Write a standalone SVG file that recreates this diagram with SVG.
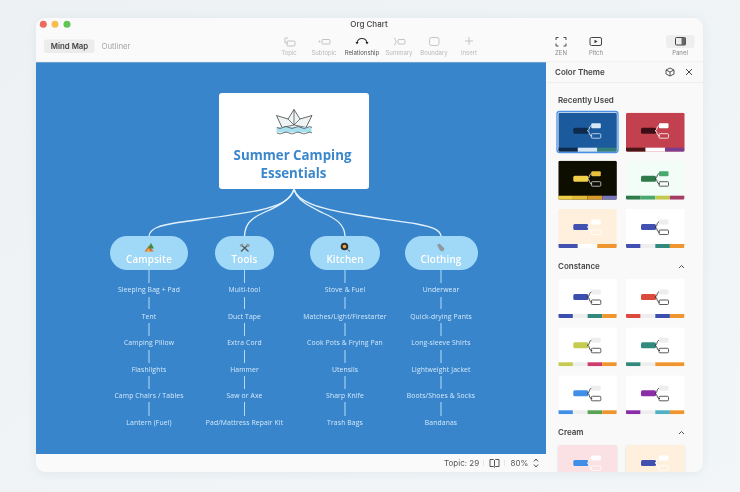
<svg xmlns="http://www.w3.org/2000/svg" width="740" height="492" viewBox="0 0 740 492">
<defs>
<linearGradient id="page" x1="0" y1="0" x2="1" y2="1"><stop offset="0" stop-color="#edf1f4"/><stop offset="1" stop-color="#f2f6f8"/></linearGradient>
<filter id="win" x="-5%" y="-5%" width="110%" height="110%"><feDropShadow dx="0" dy="1" stdDeviation="5" flood-color="#b8c4cc" flood-opacity=".3"/></filter>
<filter id="cs" x="-10%" y="-10%" width="120%" height="125%"><feDropShadow dx="0" dy="1" stdDeviation="1.2" flood-color="#000" flood-opacity=".14"/></filter>
<filter id="soft" x="0" y="0" width="100%" height="100%"><feGaussianBlur stdDeviation=".3"/></filter>
<clipPath id="winclip"><rect x="36" y="18" width="667" height="454" rx="9"/></clipPath>
<clipPath id="cardclip"><rect width="58.500" height="39" rx="1.500"/></clipPath>
<path id="link" d="M29 18C32 17.500 30 12.800 34 12.800M29 18C32 18.500 30 23.300 34 23.300" fill="none" stroke-width=".9"/>
</defs>
<style>
text{font-family:Inter,"Liberation Sans",sans-serif}
.tb{font-size:6px;fill:#b9b9b9;text-anchor:middle}
.ic{fill:none;stroke:#c4c4c4;stroke-width:1}
.icd{fill:none;stroke:#333;stroke-width:1.100}
.sec{font-size:8px;font-weight:600;fill:#444}
.item{font-family:"Open Sans","Liberation Sans",sans-serif;font-size:6.800px;fill:#d3e9fa;text-anchor:middle;letter-spacing:.12px}
.tree{fill:none;stroke:#e3f1fb;stroke-width:1.300;stroke-linecap:round}
.lane{fill:none;stroke:#b5dcf6;stroke-width:1}
.main{fill:#a0d8f7}
.mtxt{font-family:"Open Sans","Liberation Sans",sans-serif;font-size:9.800px;font-weight:600;fill:#fff;text-anchor:middle;letter-spacing:.2px}
.ttl{font-family:"Open Sans","Liberation Sans",sans-serif;font-size:13.300px;font-weight:700;fill:#3b87cd;text-anchor:middle}
.chev{fill:none;stroke:#555;stroke-width:1}
.card{filter:url(#cs)}
</style>
<g filter="url(#soft)">
<rect width="740" height="492" fill="url(#page)"/>
<rect x="36" y="18" width="667" height="454" rx="9" fill="#fafafa" filter="url(#win)"/>
<g id="toolbar">
<circle cx="43.300" cy="24.300" r="3.500" fill="#ed6a5e"/><circle cx="55" cy="24.300" r="3.500" fill="#f5bf4f"/><circle cx="67" cy="24.300" r="3.500" fill="#61c554"/>
<text x="369" y="27" font-size="8" font-weight="500" fill="#444" text-anchor="middle">Org Chart</text>
<rect x="44" y="39.500" width="50.500" height="13.500" rx="2.500" fill="#ececec"/>
<text x="69.500" y="49" font-size="7.800" font-weight="600" fill="#444" text-anchor="middle">Mind Map</text>
<text x="116" y="49" font-size="7.800" fill="#a5a5a5" text-anchor="middle">Outliner</text>
<path class="ic" d="M288 38h-3v5h3"/><rect class="ic" x="287" y="41" width="8" height="5" rx="1"/>
<text class="tb" x="289" y="55">Topic</text>
<circle cx="319.500" cy="41.500" r="1" fill="#c4c4c4"/><rect class="ic" x="322" y="39.500" width="8" height="4.500" rx="1"/>
<text class="tb" x="324" y="55">Subtopic</text>
<path class="icd" d="M357 43c1-6 9-6 10 0" stroke-width="1.500"/><path d="M355.500 42h3l-1.500 2.500zM365.500 42h3l-1.500 2.500z" fill="#222"/>
<text class="tb" x="362" y="55" style="fill:#555">Relationship</text>
<path class="ic" d="M394 38c2 0 1 3.500 2.500 3.500C395 41.500 396 45 394 45"/><rect class="ic" x="398" y="39.500" width="7" height="4.500" rx="1"/>
<text class="tb" x="399" y="55">Summary</text>
<rect class="ic" x="429.500" y="37.500" width="9.500" height="8" rx="2"/>
<text class="tb" x="434" y="55">Boundary</text>
<path class="ic" d="M469 37v8M465 41h8"/>
<text class="tb" x="469" y="55">Insert</text>
<path d="M556 40v-2.500h2.500M563.500 37.500h2.500V40M566 43.500v2.500h-2.500M558.500 46H556v-2.500" fill="none" stroke="#444" stroke-width="1"/>
<text class="tb" x="561" y="55" style="fill:#8a8a8a">ZEN</text>
<rect x="590" y="37.500" width="11.500" height="8" rx="1.500" fill="none" stroke="#444"/><path d="M594.500 39.800l3 1.700-3 1.700z" fill="#333"/>
<text class="tb" x="596" y="55" style="fill:#8a8a8a">Pitch</text>
<rect x="666" y="35" width="28.500" height="13" rx="3" fill="#eeeeee"/>
<rect x="675.500" y="37.500" width="10" height="7.500" rx="1" fill="none" stroke="#444"/><rect x="681.500" y="37.500" width="4" height="7.500" fill="#666"/>
<text class="tb" x="680" y="55" style="fill:#8a8a8a">Panel</text>
</g>
<rect x="36" y="62" width="510" height="392" fill="#3985cb"/>
<rect x="36" y="61.500" width="667" height=".8" fill="#eaeaea"/>
<g id="connectors">
<path class="tree" d="M294 189C291 201 278 206 258 210.500C230 216 202 219 178 222.500C158 225.500 150 229 149 236"/>
<path class="tree" d="M294 189C291 200 277 207 265 212C251 218 245 224 244.500 236"/>
<path class="tree" d="M294 189C297 201 311 207 323 213C337 219 344.500 225 345 236"/>
<path class="tree" d="M294 189C297 201 315 208 357 215C380 219 400 221 417 224C433 227 440 230 441 236"/>
<path class="lane" d="M149 270V283M149 297V309M149 323V336M149 350V363M149 376V389M149 402V416"/>
<path class="lane" d="M244.500 270V283M244.500 297V309M244.500 323V336M244.500 350V363M244.500 376V389M244.500 402V416"/>
<path class="lane" d="M345 270V283M345 297V309M345 323V336M345 350V363M345 376V389M345 402V416"/>
<path class="lane" d="M441 270V283M441 297V309M441 323V336M441 350V363M441 376V389M441 402V416"/>
</g>
<g id="central">
<rect x="219" y="93" width="150" height="96" rx="3" fill="#fff"/>
<path d="M276.500 115.500L288 119L294 109.500L300 119L312 115.500L306 127.500H282Z" fill="#eef3f6" stroke="#444" stroke-width=".8" stroke-linejoin="round"/>
<path d="M288 119L294 125L300 119M294 109.500V125M282 127.500L294 125L306 127.500" fill="none" stroke="#444" stroke-width=".7"/>
<rect x="276.500" y="127" width="35" height="5.500" fill="#a9e0ee"/>
<path d="M277 127.500q3 2 6 0t6 0t6 0t6 0t6 0t5 0M277 133q3 2 6 0t6 0t6 0t6 0t6 0t5 0" fill="none" stroke="#444" stroke-width=".7"/>
<text class="ttl" x="292.500" y="160">Summer Camping</text>
<text class="ttl" x="293.500" y="177.500">Essentials</text>
</g>
<g id="campsite">
<rect class="main" x="110" y="236" width="78" height="34" rx="17"/>
<path d="M144.500 251.500L149 245.500L153.500 251.500Z" fill="#d86c2c"/><path d="M151 243l3 5.500h-6z" fill="#3d8a3f"/><path d="M146 251.500l3-3.500 1 3.500z" fill="#f2b14e"/>
<text class="mtxt" x="149" y="263">Campsite</text>
<text class="item" x="149" y="292">Sleeping Bag + Pad</text><text class="item" x="149" y="318.500">Tent</text><text class="item" x="149" y="345">Camping Pillow</text><text class="item" x="149" y="371.500">Flashlights</text><text class="item" x="149" y="398">Camp Chairs / Tables</text><text class="item" x="149" y="424.500">Lantern (Fuel)</text>
</g>
<g id="tools">
<rect class="main" x="215" y="236" width="59" height="34" rx="17"/>
<path d="M241 244.500L248.500 251.500M248.500 244.500L241 251.500" stroke="#555" stroke-width="1.200"/><path d="M239.500 245l3-1.500 1 1.500-2.500 2zM247 243.500l3 2-1.500 1.500-2.500-2z" fill="#8d979c"/>
<text class="mtxt" x="244.500" y="263">Tools</text>
<text class="item" x="244.500" y="292">Multi-tool</text><text class="item" x="244.500" y="318.500">Duct Tape</text><text class="item" x="244.500" y="345">Extra Cord</text><text class="item" x="244.500" y="371.500">Hammer</text><text class="item" x="244.500" y="398">Saw or Axe</text><text class="item" x="244.500" y="424.500">Pad/Mattress Repair Kit</text>
</g>
<g id="kitchen">
<rect class="main" x="310" y="236" width="70" height="34" rx="17"/>
<circle cx="344.500" cy="246.500" r="3.800" fill="#333"/><circle cx="344.500" cy="246.500" r="1.800" fill="#f0a63c"/><path d="M347.500 249.500L350 251.500" stroke="#555" stroke-width="1"/>
<text class="mtxt" x="345" y="263">Kitchen</text>
<text class="item" x="345" y="292">Stove &amp; Fuel</text><text class="item" x="345" y="318.500">Matches/Light/Firestarter</text><text class="item" x="345" y="345">Cook Pots &amp; Frying Pan</text><text class="item" x="345" y="371.500">Utensils</text><text class="item" x="345" y="398">Sharp Knife</text><text class="item" x="345" y="424.500">Trash Bags</text>
</g>
<g id="clothing">
<rect class="main" x="405" y="236" width="73" height="34" rx="17"/>
<path d="M437 245l2.500-1.500 5 5 -1.500 3-3-1z" fill="#8f9aa0"/>
<text class="mtxt" x="441" y="263">Clothing</text>
<text class="item" x="441" y="292">Underwear</text><text class="item" x="441" y="318.500">Quick-drying Pants</text><text class="item" x="441" y="345">Long-sleeve Shirts</text><text class="item" x="441" y="371.500">Lightweight Jacket</text><text class="item" x="441" y="398">Boots/Shoes &amp; Socks</text><text class="item" x="441" y="424.500">Bandanas</text>
</g>
<g id="panel" clip-path="url(#winclip)">
<rect x="546" y="62" width="157" height="410" fill="#f9f9f9"/>
<rect x="546" y="82" width="157" height=".8" fill="#ebebeb"/>
<text x="555" y="75" font-size="8" font-weight="600" fill="#444">Color Theme</text>
<path d="M670 68l4 2v4l-4 2-4-2v-4zM666 70l4 2 4-2M670 72v4" fill="none" stroke="#444" stroke-width=".9"/>
<path d="M686 69l6 6M692 69l-6 6" stroke="#444" stroke-width="1"/>
<text class="sec" x="558" y="103">Recently Used</text>
<text class="sec" x="558" y="269">Constance</text>
<path class="chev" d="M679 268l2.500-2.500 2.500 2.500"/>
<text class="sec" x="558" y="435">Cream</text>
<path class="chev" d="M679 434l2.500-2.500 2.500 2.500"/>

<rect x="557" y="111.500" width="61" height="41" rx="2.500" fill="none" stroke="#4a90e8" stroke-width="1.300"/>
<g class="card" transform="translate(558.300 112.700)" clip-path="url(#cardclip)"><rect width="59" height="40" fill="#1f5a9e"/><rect x="15" y="15" width="15" height="6" rx="1.500" fill="#0c2c4e"/><use href="#link" stroke="#d6e8f8"/><rect x="33" y="10.500" width="9.500" height="5" rx="1" fill="#d6e8f8"/><rect x="33" y="21" width="9.500" height="4.500" rx="1" fill="none" stroke="#d6e8f8" stroke-width=".8"/><rect y="35" width="19.500" height="4" fill="#0c2c4e"/><rect x="19.500" y="35" width="19.500" height="4" fill="#d6e8f8"/><rect x="39" y="35" width="19.500" height="4" fill="#338079"/></g>
<g class="card" transform="translate(626 112.700)" clip-path="url(#cardclip)"><rect width="59" height="40" fill="#c33f4f"/><rect x="15" y="15" width="15" height="6" rx="1.500" fill="#3e1016"/><use href="#link" stroke="#fff"/><rect x="33" y="10.500" width="9.500" height="5" rx="1" fill="#fff"/><rect x="33" y="21" width="9.500" height="4.500" rx="1" fill="none" stroke="#fff" stroke-width=".8"/><rect y="35" width="19.500" height="4" fill="#4a1218"/><rect x="19.500" y="35" width="19.500" height="4" fill="#fff"/><rect x="39" y="35" width="19.500" height="4" fill="#7b3d91"/></g>
<g class="card" transform="translate(558.300 160.700)" clip-path="url(#cardclip)"><rect width="59" height="40" fill="#0a0705"/><rect x="15" y="15" width="15" height="6" rx="1.500" fill="#f0cf4a"/><use href="#link" stroke="#e8e0c0"/><rect x="33" y="10.500" width="9.500" height="5" rx="1" fill="#e8c03e"/><rect x="33" y="21" width="9.500" height="4.500" rx="1" fill="none" stroke="#ddd" stroke-width=".8"/><rect y="35" width="14.600" height="4" fill="#efcf45"/><rect x="14.600" y="35" width="14.700" height="4" fill="#e5bb35"/><rect x="29.300" y="35" width="14.600" height="4" fill="#d99a2b"/><rect x="43.900" y="35" width="14.600" height="4" fill="#7676b8"/></g>
<g class="card" transform="translate(626 160.700)" clip-path="url(#cardclip)"><rect width="59" height="40" fill="#f3fdf8"/><rect x="15" y="15" width="15" height="6" rx="1.500" fill="#2f7a4a"/><use href="#link" stroke="#333"/><rect x="33" y="10.500" width="9.500" height="5" rx="1" fill="#4aa86c"/><rect x="33" y="21" width="9.500" height="4.500" rx="1" fill="none" stroke="#333" stroke-width=".8"/><rect y="35" width="14.600" height="4" fill="#2f7a4a"/><rect x="14.600" y="35" width="14.700" height="4" fill="#4aa86c"/><rect x="29.300" y="35" width="14.600" height="4" fill="#c3c84f"/><rect x="43.900" y="35" width="14.600" height="4" fill="#a63a68"/></g>
<g class="card" transform="translate(558.300 209)" clip-path="url(#cardclip)"><rect width="59" height="40" fill="#fef0dd"/><rect x="15" y="15" width="15" height="6" rx="1.500" fill="#4251b0"/><use href="#link" stroke="#fff"/><rect x="33" y="10.500" width="9.500" height="5" rx="1" fill="#fff"/><rect x="33" y="21" width="9.500" height="4.500" rx="1" fill="none" stroke="#fff" stroke-width=".8"/><rect y="35" width="19.500" height="4" fill="#4251b0"/><rect x="19.500" y="35" width="19.500" height="4" fill="#fff"/><rect x="39" y="35" width="19.500" height="4" fill="#f0962e"/></g>
<g class="card" transform="translate(626 209)" clip-path="url(#cardclip)"><rect width="59" height="40" fill="#fff"/><rect x="15" y="15" width="15" height="6" rx="1.500" fill="#4251b0"/><use href="#link" stroke="#333"/><rect x="33" y="10.500" width="9.500" height="5" rx="1" fill="#eee"/><rect x="33" y="21" width="9.500" height="4.500" rx="1" fill="none" stroke="#333" stroke-width=".8"/><rect y="35" width="14.600" height="4" fill="#4251b0"/><rect x="14.600" y="35" width="14.700" height="4" fill="#eee"/><rect x="29.300" y="35" width="14.600" height="4" fill="#338a7e"/><rect x="43.900" y="35" width="14.600" height="4" fill="#f0962e"/></g>

<g class="card" transform="translate(558.300 279)" clip-path="url(#cardclip)"><rect width="59" height="40" fill="#fff"/><rect x="15" y="15" width="15" height="6" rx="1.500" fill="#3e4fae"/><use href="#link" stroke="#333"/><rect x="33" y="10.500" width="9.500" height="5" rx="1" fill="#eee"/><rect x="33" y="21" width="9.500" height="4.500" rx="1" fill="none" stroke="#333" stroke-width=".8"/><rect y="35" width="14.600" height="4" fill="#3e4fae"/><rect x="14.600" y="35" width="14.700" height="4" fill="#eee"/><rect x="29.300" y="35" width="14.600" height="4" fill="#338a7e"/><rect x="43.900" y="35" width="14.600" height="4" fill="#f0962e"/></g>
<g class="card" transform="translate(626 279)" clip-path="url(#cardclip)"><rect width="59" height="40" fill="#fff"/><rect x="15" y="15" width="15" height="6" rx="1.500" fill="#dc4a3c"/><use href="#link" stroke="#333"/><rect x="33" y="10.500" width="9.500" height="5" rx="1" fill="#eee"/><rect x="33" y="21" width="9.500" height="4.500" rx="1" fill="none" stroke="#333" stroke-width=".8"/><rect y="35" width="14.600" height="4" fill="#dc4a3c"/><rect x="14.600" y="35" width="14.700" height="4" fill="#eee"/><rect x="29.300" y="35" width="14.600" height="4" fill="#3e4fae"/><rect x="43.900" y="35" width="14.600" height="4" fill="#f0962e"/></g>
<g class="card" transform="translate(558.300 327.300)" clip-path="url(#cardclip)"><rect width="59" height="40" fill="#fff"/><rect x="15" y="15" width="15" height="6" rx="1.500" fill="#c5cb50"/><use href="#link" stroke="#333"/><rect x="33" y="10.500" width="9.500" height="5" rx="1" fill="#eee"/><rect x="33" y="21" width="9.500" height="4.500" rx="1" fill="none" stroke="#333" stroke-width=".8"/><rect y="35" width="14.600" height="4" fill="#c5cb50"/><rect x="14.600" y="35" width="14.700" height="4" fill="#eee"/><rect x="29.300" y="35" width="14.600" height="4" fill="#cf3a6c"/><rect x="43.900" y="35" width="14.600" height="4" fill="#f0962e"/></g>
<g class="card" transform="translate(626 327.300)" clip-path="url(#cardclip)"><rect width="59" height="40" fill="#fff"/><rect x="15" y="15" width="15" height="6" rx="1.500" fill="#338a7e"/><use href="#link" stroke="#333"/><rect x="33" y="10.500" width="9.500" height="5" rx="1" fill="#eee"/><rect x="33" y="21" width="9.500" height="4.500" rx="1" fill="none" stroke="#333" stroke-width=".8"/><rect y="35" width="14.600" height="4" fill="#338a7e"/><rect x="14.600" y="35" width="14.700" height="4" fill="#eee"/><rect x="29.300" y="35" width="29.200" height="4" fill="#f0962e"/></g>
<g class="card" transform="translate(558.300 375.300)" clip-path="url(#cardclip)"><rect width="59" height="40" fill="#fff"/><rect x="15" y="15" width="15" height="6" rx="1.500" fill="#408ee6"/><use href="#link" stroke="#333"/><rect x="33" y="10.500" width="9.500" height="5" rx="1" fill="#eee"/><rect x="33" y="21" width="9.500" height="4.500" rx="1" fill="none" stroke="#333" stroke-width=".8"/><rect y="35" width="14.600" height="4" fill="#408ee6"/><rect x="14.600" y="35" width="14.700" height="4" fill="#eee"/><rect x="29.300" y="35" width="14.600" height="4" fill="#5aa356"/><rect x="43.900" y="35" width="14.600" height="4" fill="#f0962e"/></g>
<g class="card" transform="translate(626 375.300)" clip-path="url(#cardclip)"><rect width="59" height="40" fill="#fff"/><rect x="15" y="15" width="15" height="6" rx="1.500" fill="#8a2fa8"/><use href="#link" stroke="#333"/><rect x="33" y="10.500" width="9.500" height="5" rx="1" fill="#eee"/><rect x="33" y="21" width="9.500" height="4.500" rx="1" fill="none" stroke="#333" stroke-width=".8"/><rect y="35" width="14.600" height="4" fill="#8a2fa8"/><rect x="14.600" y="35" width="14.700" height="4" fill="#eee"/><rect x="29.300" y="35" width="14.600" height="4" fill="#4fb0c6"/><rect x="43.900" y="35" width="14.600" height="4" fill="#f0962e"/></g>

<g class="card" transform="translate(558.300 445)"><rect width="58.500" height="40" rx="1.500" fill="#fbe0e4"/><rect x="15" y="15" width="15" height="6" rx="1.500" fill="#408ee6"/><use href="#link" stroke="#fff"/><rect x="33" y="10.500" width="9.500" height="5" rx="1" fill="#fff"/><rect x="33" y="21" width="9.500" height="4.500" rx="1" fill="none" stroke="#fff" stroke-width=".8"/></g>
<g class="card" transform="translate(626 445)"><rect width="58.500" height="40" rx="1.500" fill="#fef0dd"/><rect x="15" y="15" width="15" height="6" rx="1.500" fill="#4251b0"/><use href="#link" stroke="#fff"/><rect x="33" y="10.500" width="9.500" height="5" rx="1" fill="#fff"/><rect x="33" y="21" width="9.500" height="4.500" rx="1" fill="none" stroke="#fff" stroke-width=".8"/></g>
</g>
<g id="status">
<text x="444" y="466" font-size="8" fill="#555">Topic: 29</text>
<rect x="483" y="460" width=".7" height="6" fill="#ddd"/>
<path d="M490 459.500h3.500l1 1 1-1h3.500v7h-3.500l-1 1-1-1H490zM494.500 460.500v6" fill="none" stroke="#444" stroke-width=".9"/>
<rect x="504" y="460" width=".7" height="6" fill="#ddd"/>
<text x="510.500" y="466" font-size="8" fill="#555">80%</text>
<path d="M534 461.500l2-2.500 2 2.500M534 464.500l2 2.500 2-2.500" fill="none" stroke="#444" stroke-width=".9"/>
</g>
</g>
</svg>
